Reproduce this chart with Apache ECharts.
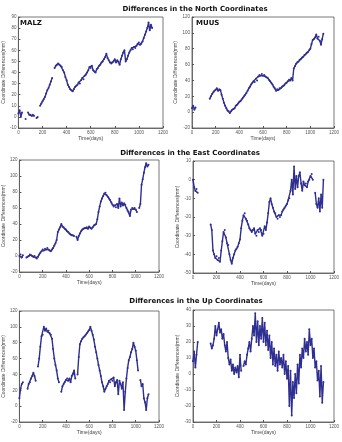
<!DOCTYPE html>
<html>
<head>
<meta charset="utf-8">
<script src="https://cdn.jsdelivr.net/npm/echarts@6/dist/echarts.min.js"></script>
<style>
  html, body { margin: 0; padding: 0; background: #fff; }
  #chart { width: 342px; height: 442px; }
</style>
</head>
<body>
<div id="chart"></div>
<script>
// day grid shared by all six series (every 10 days)
var days = [];
for (var d = 0; d <= 1110; d += 10) days.push(d);

var N = null;
// North
var northMalz = [
  3, 6, 0, 4, N, N, -2, N, 4, 2,
  2, 1, 2, 1, N, -1, 0, N, 10, 12,
  14, 16, 18, 21, 24, 26, 29, 32, 35, N,
  44, 46, 47, 48, 47, 46, 45, 42, 40, 36,
  33, 29, 27, 25, 24, 23, 25, 27, 28, 29,
  31, 30, 33, 35, 34, 37, 38, 40, 42, 45,
  44, 46, 42, 41, 40, 43, 44, 46, 47, 49,
  50, 52, 54, 57, 53, 51, 49, 48, 49, 50,
  52, 49, 51, 50, 47, 52, 55, 58, 60, 50,
  52, 55, 58, 60, 62, 61, 63, 62, 64, 66,
  67, 65, 66, 68, 71, 74, 77, 80, 85, 78,
  83, 80
];
var northMuus = [
  5, 8, 3, 6, N, N, N, N, N, N,
  N, N, N, N, N, 17, 20, 23, 25, 27,
  28, 30, 27, 29, 28, 22, 17, 12, 8, 5,
  2, 1, -1, 1, 3, 4, 5, 8, 9, 11,
  13, 14, 16, 18, 20, 22, 24, 27, 30, 32,
  35, 37, 39, 38, 42, 40, 45, 47, 46, 48,
  46, 47, 45, 44, 43, 41, 39, 37, 35, 32,
  30, 27, 29, 28, 30, 30, 32, 33, 34, 36,
  37, 39, 41, 40, 43, 40, 55, 58, 61, 63,
  64, 66, 67, 69, 70, 72, 73, 75, 76, 78,
  80, 86, 91, 92, 94, 98, 93, 95, 90, 85,
  92, 99
];
// East
var eastMalz = [
  0, 2, -2, 1, N, N, -2, -1, 0, 2,
  1, 0, -1, 0, -2, -3, -1, 2, 4, 6,
  8, 7, 9, 8, 10, 8, 7, 6, 8, 10,
  13, 16, 20, 30, 33, 36, 40, 37, 36, 34,
  33, 31, 30, 28, 27, 26, 26, 25, N, 24,
  20, 25, 28, 31, 33, 34, 35, 35, 36, 34,
  37, 35, 34, 36, 38, 39, 40, 46, 55, 62,
  68, 72, 75, 78, 79, 76, 74, 72, 70, 67,
  64, 62, 63, 61, 65, 60, 72, 62, 67, 63,
  66, 64, 60, 57, 55, 50, 58, 60, 59, 60,
  58, 55, N, 60, 65, 89, 96, 104, 111, 116,
  112, 114
];
var eastMuus = [
  0, -4, -6, -5, -7, N, N, N, N, N,
  N, N, N, N, N, -24, -27, -38, -40, -42,
  -41, -43, -42, -44, -38, -33, -28, -27, -31, -34,
  -35, -40, -43, -45, -42, -40, -38, -37, -36, -34,
  -32, -26, -22, -19, -18, -21, -22, -24, -26, -27,
  -28, -27, -26, -29, -30, -27, -28, -26, -27, -30,
  -29, -25, -27, -23, -18, -12, -10, -13, -15, -17,
  -18, -20, -21, -19, -20, -19, -17, -16, -15, -14,
  -13, -11, -10, -6, 0, -8, 7, -5, 2, -4,
  2, 4, -2, -6, -1, -3, -2, -4, -1, 0,
  2, 3, 0, N, -7, -13, -15, -10, -17, -8,
  -15, 0
];
// Up
var upMalz = [
  10, 22, 28, 30, N, N, N, 22, 28, 30,
  35, 38, 42, 38, 32, N, 50, 60, 75, 88,
  90, 100, 95, 98, 94, 95, 92, 90, 85, 72,
  60, 52, 45, 35, 30, N, 18, 25, 28, 30,
  33, 35, 32, 35, 30, 38, 40, 45, 35, N,
  40, 62, 78, 82, 85, 87, 88, 90, 92, 94,
  96, 100, 95, 90, 84, 75, 68, 60, 52, 45,
  38, 30, 25, 18, 22, 25, 28, 32, 30, 34,
  32, 36, 25, 30, 33, 15, 32, 28, 22, 30,
  -5, 18, 35, 48, 58, 62, 68, 72, 80, 75,
  70, 58, 45, N, 33, 25, 28, 10, 5, -5,
  10, 15
];
var upMuus = [
  8, 14, 4, 12, 20, N, N, N, N, N,
  N, N, N, N, N, 19, 16, 18, 22, 30,
  24, 28, 32, 26, 28, 22, 25, 18, 14, 20,
  10, 6, 9, 2, 6, 0, 4, 1, 5, -2,
  12, 2, N, 5, 8, 6, 12, 16, 20, 14,
  22, 30, 24, 38, 20, 33, 18, 30, 22, 35,
  20, 32, 18, 27, 15, 24, 10, 20, 6, 16,
  5, 12, 2, 14, 6, 10, 4, 12, 0, 8,
  -3, 5, -20, 2, -26, -5, -15, 0, -12, 6,
  -6, 12, 4, 16, 10, 22, 14, 20, 12, 28,
  18, 22, 10, 16, 4, 8, -4, 2, -14, 5,
  -18, -5
];

// y ranges per panel [min, max, interval]
var yRanges = [[-10, 90, 10], [-20, 120, 20], [-20, 120, 20], [-50, 10, 10], [-20, 120, 20], [-30, 40, 10]];
var sectionTitles = ['Differences in the North Coordinates', 'Differences in the East Coordinates', 'Differences in the Up Coordinates'];
var stationNames = ['MALZ', 'MUUS'];
var allSeries = [northMalz, northMuus, eastMalz, eastMuus, upMalz, upMuus];

var grids = [
  { left: 16, top: 17, width: 147, height: 111 },
  { left: 192, top: 17, width: 142, height: 111 },
  { left: 14, top: 160, width: 145, height: 112 },
  { left: 193, top: 161, width: 142, height: 112 },
  { left: 14, top: 311, width: 145, height: 111 },
  { left: 193, top: 310, width: 141, height: 112 }
];

function pairs(vals) {
  return days.map(function (d, i) { return [d, vals[i] === null ? '-' : vals[i]]; });
}

var myChart = echarts.init(document.getElementById('chart'), null, { renderer: 'canvas' });

var axisCommon = function () {
  return {
    axisLine: { show: true, onZero: false, lineStyle: { color: '#555', width: 0.8 } },
    axisTick: { inside: true, length: 2, lineStyle: { color: '#555' } },
    axisLabel: { fontSize: 4.5, color: '#555', margin: 2, formatter: function (v) { return String(v); } },
    splitLine: { show: false },
    nameTextStyle: { fontSize: 5, color: '#444' },
    nameLocation: 'middle'
  };
};

var option = {
  backgroundColor: '#fff',
  animation: false,
  title: [
    { text: sectionTitles[0], left: 190, top: 1, textAlign: 'center' },
    { text: sectionTitles[1], left: 185, top: 145, textAlign: 'center' },
    { text: sectionTitles[2], left: 191, top: 293, textAlign: 'center' }
  ].map(function (t) {
    t.textStyle = { fontSize: 7, fontWeight: 'bold', color: '#111', fontFamily: 'DejaVu Sans' };
    return t;
  }),
  grid: grids.map(function (g) {
    return Object.assign({ show: true, borderColor: '#555', borderWidth: 0.8, backgroundColor: '#fff' }, g);
  }),
  xAxis: grids.map(function (g, i) {
    return Object.assign(axisCommon(), {
      type: 'value', gridIndex: i, min: 0, max: 1200, interval: 200,
      name: 'Time(days)', nameGap: 8
    });
  }),
  yAxis: grids.map(function (g, i) {
    return Object.assign(axisCommon(), {
      type: 'value', gridIndex: i, min: yRanges[i][0], max: yRanges[i][1], interval: yRanges[i][2],
      name: 'Coordinate Differences(mm)', nameGap: 11
    });
  }),
  graphic: [
    { type: 'text', left: 20, top: 20, style: { text: stationNames[0], fontSize: 7, fontWeight: 'bold', fill: '#111', fontFamily: 'DejaVu Sans' } },
    { type: 'text', left: 196, top: 20, style: { text: stationNames[1], fontSize: 7, fontWeight: 'bold', fill: '#111', fontFamily: 'DejaVu Sans' } }
  ],
  series: allSeries.map(function (vals, i) {
    return {
      type: 'line', xAxisIndex: i, yAxisIndex: i,
      data: pairs(vals),
      showSymbol: true, showAllSymbol: true, symbol: 'circle', symbolSize: 2,
      itemStyle: { color: '#2f2f92' },
      lineStyle: { color: '#2f2f92', width: 1.4 },
      connectNulls: false
    };
  })
};

myChart.setOption(option);
window.addEventListener('resize', function () { myChart.resize(); });
</script>
</body>
</html>
